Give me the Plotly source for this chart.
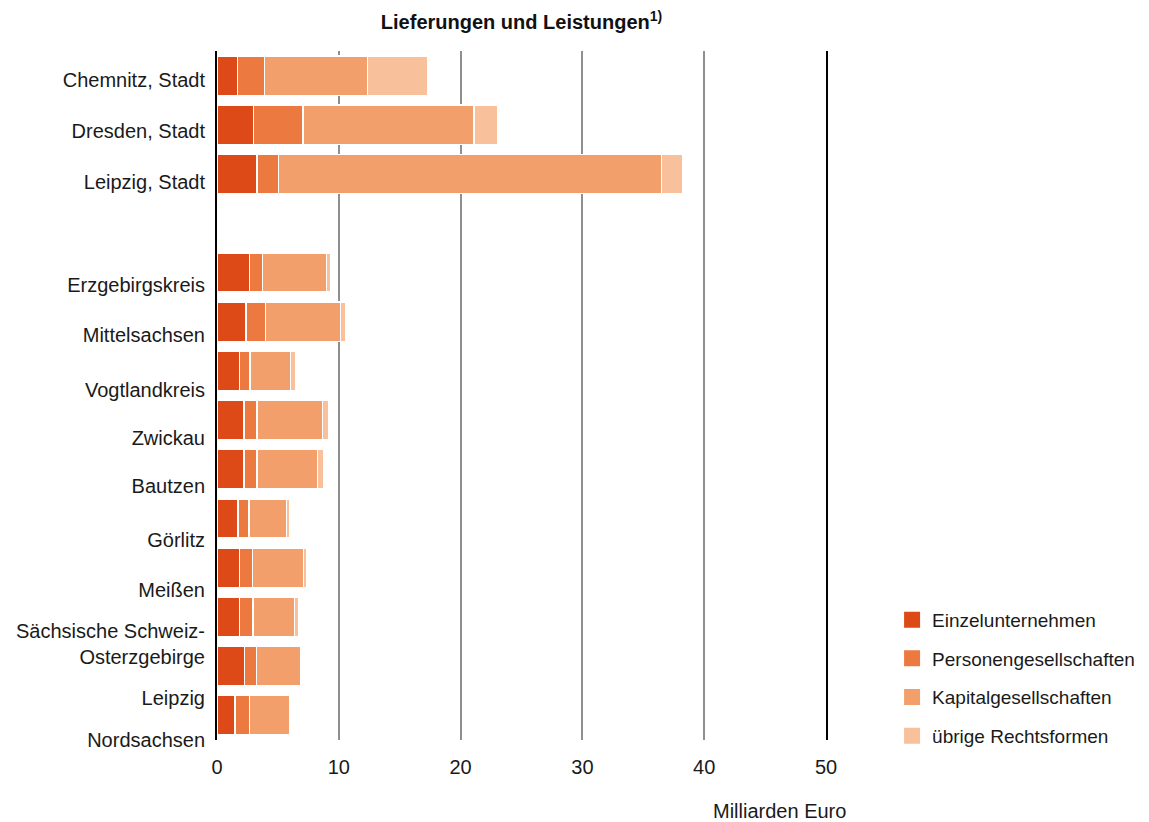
import plotly.graph_objects as go

# ---- data (Milliarden Euro) ----
regions = ["Chemnitz, Stadt", "Dresden, Stadt", "Leipzig, Stadt",
           "Erzgebirgskreis", "Mittelsachsen", "Vogtlandkreis", "Zwickau",
           "Bautzen", "Görlitz", "Meißen",
           "Sächsische Schweiz-<br>Osterzgebirge", "Leipzig", "Nordsachsen"]
einzel = [1.70, 3.01, 3.28, 2.65, 2.38, 1.86, 2.22, 2.22, 1.72, 1.83, 1.83, 2.24, 1.48]
personen = [2.18, 4.03, 1.75, 1.07, 1.62, 0.85, 1.06, 1.06, 0.91, 1.07, 1.13, 0.99, 1.17]
kapital = [8.46, 14.06, 31.45, 5.25, 6.12, 3.31, 5.40, 4.96, 3.06, 4.22, 3.42, 3.67, 3.29]
uebrige = [4.98, 1.97, 1.78, 0.36, 0.45, 0.47, 0.46, 0.54, 0.25, 0.24, 0.35, 0.03, 0.03]
series_names = ["Einzelunternehmen", "Personengesellschaften",
                "Kapitalgesellschaften", "übrige Rechtsformen"]
x_ticks = [0, 10, 20, 30, 40, 50]

# ---- layout helpers ----
colors = ["#DE4A17", "#EC7A40", "#F29F6C", "#F8C19C"]
font = "Liberation Sans, Arial, sans-serif"
# row index per region: the three cities, a blank row, then the districts
rows = [i if i < 3 else i + 1 for i in range(len(regions))]
# label positions (as in the original, labels drift slightly below the bars)
label_shift = [0.08, 0.125, 0.17, 0.26, 0.275, 0.38, 0.37, 0.34, 0.44, 0.45, 0.54, 0.65, 0.5]
label_pos = [r + s for r, s in zip(rows, label_shift)]

fig = go.Figure()
for name, vals, col in zip(series_names, [einzel, personen, kapital, uebrige], colors):
    fig.add_trace(go.Bar(
        x=vals, y=rows, orientation="h", name=name, width=0.8,
        marker=dict(color=col, line=dict(color="white", width=1.5)),
        showlegend=False,
    ))
for name, col in zip(series_names, colors):
    fig.add_trace(go.Scatter(
        x=[None], y=[None], mode="markers", name=name, legendgroup=name,
        marker=dict(symbol="square", size=18, color=col),
    ))

fig.update_layout(
    width=1141, height=814,
    margin=dict(l=209, r=323, t=43, b=82, autoexpand=False),
    barmode="stack",
    plot_bgcolor="white", paper_bgcolor="white",
    font=dict(family=font, size=20, color="#1a1a1a"),
    title=dict(text="<b>Lieferungen und Leistungen<sup>1)</sup></b>",
               x=0.5, xref="paper", xanchor="center",
               y=1 - 14 / 814, yref="container", yanchor="middle",
               font=dict(size=20, color="#111111")),
    legend=dict(x=1.1085, xanchor="left", y=0.202, yanchor="top",
                xref="paper", yref="paper",
                font=dict(size=19), tracegroupgap=11,
                itemwidth=30, bgcolor="rgba(0,0,0,0)"),
    xaxis=dict(range=[0, 50], tickvals=x_ticks, showgrid=True,
               gridcolor="#8f8f8f", gridwidth=1.5, zeroline=False,
               showline=False, ticks="", ticklabelstandoff=13,
               fixedrange=True),
    yaxis=dict(range=[13.5, -0.5], tickmode="array", tickvals=label_pos,
               ticktext=regions, showgrid=False, zeroline=False,
               showline=True, linecolor="black", linewidth=2, mirror=True,
               ticks="", ticklabelstandoff=6),
    annotations=[dict(text="Milliarden Euro", xref="paper", yref="paper",
                      x=(771 - 209) / 609, y=(732 - 803) / 689,
                      xanchor="center", yanchor="middle", showarrow=False,
                      font=dict(size=20))],
)

fig.write_html("out.html")
